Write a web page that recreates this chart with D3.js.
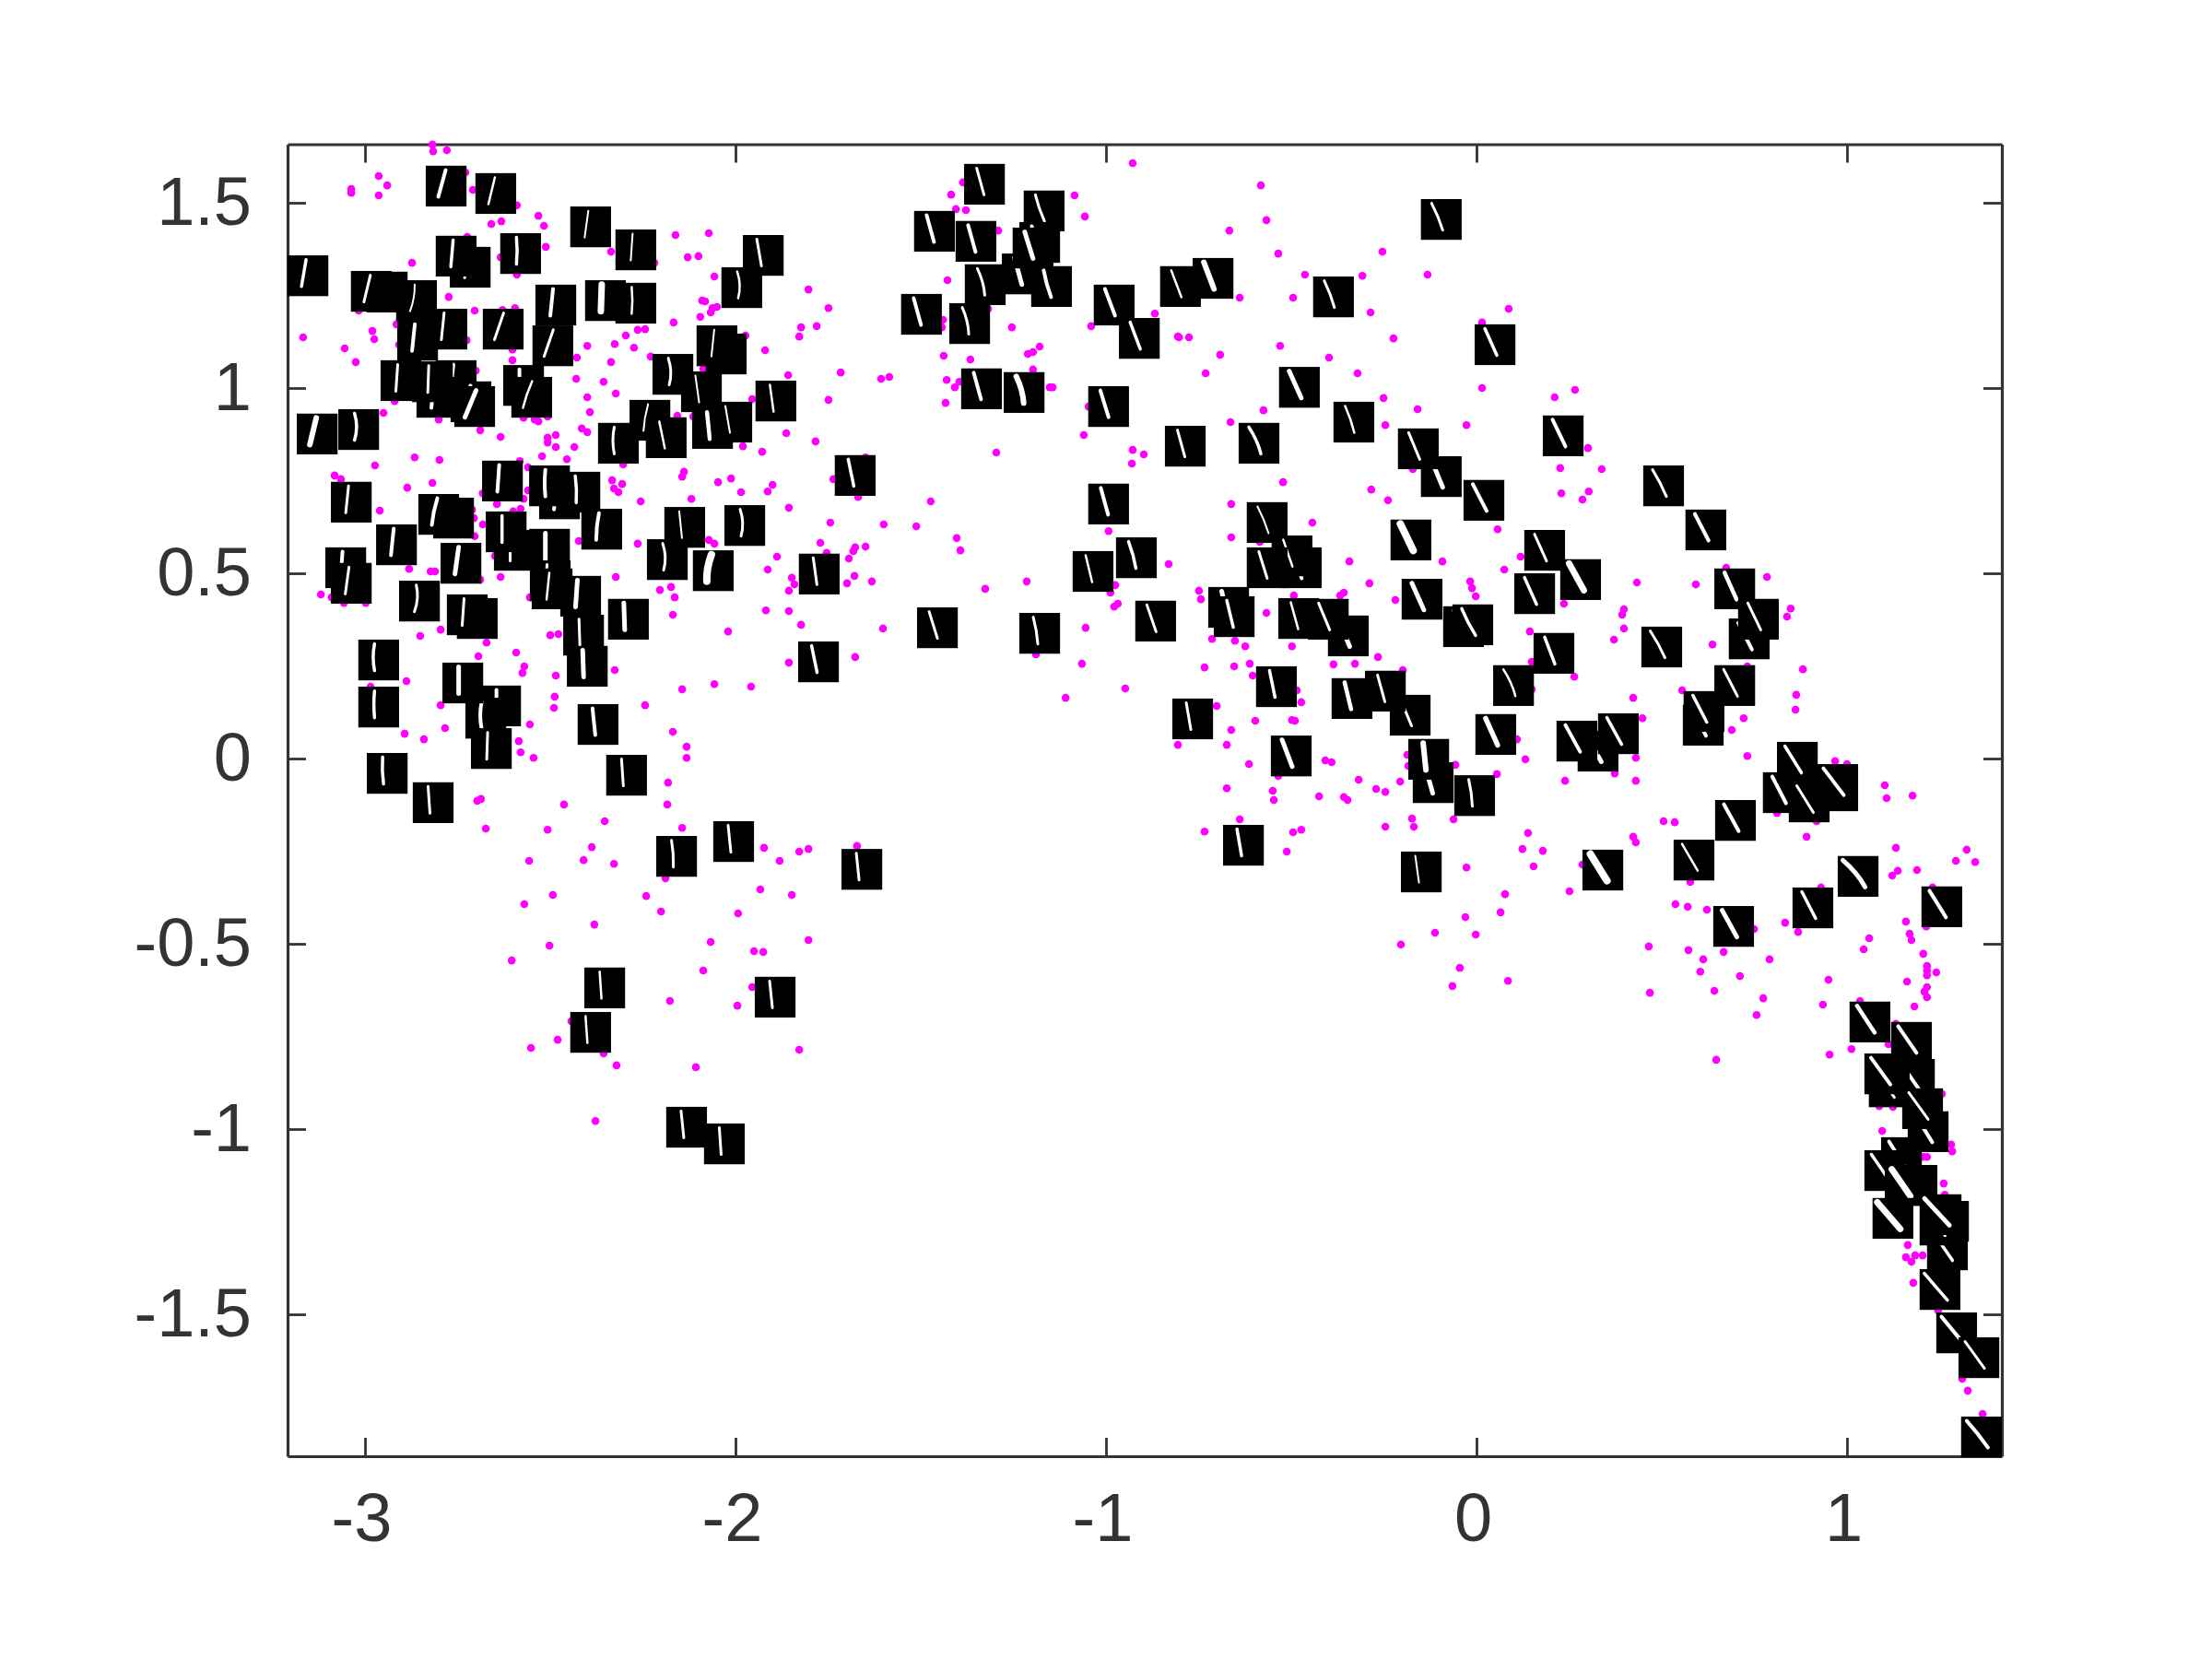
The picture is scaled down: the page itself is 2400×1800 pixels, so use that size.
<!DOCTYPE html>
<html>
<head>
<meta charset="utf-8">
<script src="https://cdn.jsdelivr.net/npm/d3@7"></script>
<style>
  html, body { margin: 0; background: #fff; }
  text { font-family: "Liberation Sans", Arial, sans-serif; }
</style>
</head>
<body>
<div id="chart"></div>
<script>
// tick values and their labels
const xTicks = [-3, -2, -1, 0, 1];
const xTickLabels = ["-3", "-2", "-1", "0", "1"];
const yTicks = [-1.5, -1, -0.5, 0, 0.5, 1, 1.5];
const yTickLabels = ["-1.5", "-1", "-0.5", "0", "0.5", "1", "1.5"];
const xLimits = [-3.209, 1.418];
const yLimits = [-1.883, 1.658];

// magenta points
const dotX = [
  -2.818,-2.816,-2.779,-2.963,-2.940,-3.037,-3.037,-2.963,-2.729,-2.709,-2.590,-2.532,-2.517,-2.659,-2.632,-2.512,-2.724,-2.634,-2.590,-2.336,
  -2.219,-2.162,-2.072,-2.129,-2.100,-2.057,-2.873,-2.774,-3.017,-2.704,-2.629,-2.595,-2.090,-2.082,-2.062,-2.050,-2.067,-2.095,-2.167,-3.167,
  -2.980,-2.975,-2.915,-2.726,-2.908,-3.055,-3.025,-2.602,-2.602,-2.428,-2.400,-2.326,-2.296,-2.264,-2.244,-2.274,-2.336,-2.229,-2.087,-2.701,
  -2.430,-2.356,-2.400,-2.323,-2.920,-2.950,-2.393,-2.801,-2.572,-2.542,-2.532,-2.507,-2.157,-2.114,-2.689,-2.634,-2.415,-2.400,-2.507,-2.485,
  -2.507,-2.485,-2.435,-2.522,-2.455,-2.866,-2.799,-2.973,-2.582,-2.560,-2.303,-2.139,-2.144,-2.333,-2.306,-2.328,-2.316,-2.047,-2.012,-3.082,
  -3.065,-2.818,-2.886,-2.256,-2.119,
  -2.960,-2.644,-2.572,-2.682,-2.560,-2.600,-2.580,-2.711,-2.706,-2.682,-2.704,-2.423,-2.264,-2.072,-2.057,-2.881,-2.823,-2.811,-2.649,-2.634,
  -2.689,-2.323,-3.119,-3.090,-3.057,-2.998,-2.555,-2.204,-2.174,-2.164,-2.169,-2.020,-2.851,-2.796,-2.672,-2.500,-2.478,-2.694,-2.592,-2.570,
  -2.575,-2.485,-2.326,-2.888,-2.985,-2.488,-2.490,-2.796,-2.144,-2.057,-2.244,-2.555,-2.784,-2.893,-2.841,-2.585,-2.580,-2.545,-2.169,-2.132,
  -2.132,-2.182,-2.184,-2.697,-2.687,-2.463,-2.353,-2.674,-2.507,-2.144,
  -2.388,-1.923,-1.828,-1.803,-1.881,-1.672,-2.557,-2.410,-2.328,-2.189,-2.493,-2.241,-1.933,-1.848,-2.570,-2.201,-1.993,-2.381,-2.502,-2.067,
  -1.950,-1.925,-1.803,-2.604,-2.087,-1.955,-2.177,-1.995,-2.443,-2.480,-2.552,-2.356,-2.321,-2.107,-1.828,-2.378,
  -1.418,-1.405,-1.378,-1.386,-1.085,-1.057,-1.291,-1.428,-1.803,-1.749,-1.823,-1.781,-1.828,-1.973,-1.920,-1.318,-1.440,-1.443,-1.254,-0.868,
  -1.040,-0.806,-1.438,-1.366,-1.179,-1.197,-1.211,-1.197,-1.858,-1.716,-1.607,-1.585,-1.430,-1.396,-1.408,-1.433,-1.152,-1.144,-1.047,-1.955,
  -1.749,-1.863,-1.784,-1.980,-1.928,-1.649,-1.296,-1.060,-0.928,-0.898,-0.930,-1.985,-1.900,-1.913,-1.736,-1.669,-1.473,-1.856,-1.744,-1.600,
  -1.512,-1.403,-1.393,-0.993,-1.771,-1.754,-1.888,-1.913,-1.677,-1.649,-1.682,-1.694,-1.848,-1.841,-1.856,-1.679,-1.699,-1.632,-1.326,-1.214,
  -0.975,-0.988,-0.831,
  -1.918,-1.856,-1.823,-1.602,-0.968,-0.978,-1.055,-1.065,-1.189,-1.856,-1.677,-1.958,-1.109,-0.948,-0.806,
  -0.662,-0.662,-0.239,-0.443,0.057,-0.092,0.119,0.075,-0.343,-0.585,-0.289,-0.219,-0.358,-0.368,-0.749,-0.744,-0.493,-0.017,-0.012,-0.002,
  -0.567,0.236,-0.714,-0.652,-0.624,-0.498,0.144,-0.266,-0.386,-0.328,-0.199,-0.734,-0.654,-0.612,-0.604,0.149,-0.485,-0.473,-0.701,0.149,
  -0.597,-0.498,-0.490,-0.662,-0.674,0.109,0.132,-0.614,-0.535,-0.408,-0.391,-0.187,-0.184,-0.057,0.055,-0.318,-0.206,-0.271,-0.246,-0.674,
  -0.550,-0.547,-0.425,-0.358,-0.348,0.239,-0.639,-0.734,-0.495,-0.473,-0.512,-0.246,-0.174,-0.169,-0.062,0.139,0.124,0.179,0.154,-0.027,
  0.077,0.065,-0.030,-0.002,-0.112,-0.204,-0.045,-0.065,0.085,
  -0.928,-0.582,-0.567,-0.667,-0.535,-0.254,-0.463,-0.308,-0.132,-0.639,-0.495,-0.286,-0.224,0.015,0.087,-0.803,-0.776,-0.692,-0.530,-0.398,
  -0.731,-0.321,0.015,-0.575,-0.251,-0.159,-0.664,-0.246,-0.027,-0.172,-0.522,-0.284,
  0.211,0.266,0.301,0.226,0.338,0.229,0.303,0.286,0.433,0.592,0.674,0.784,0.398,0.393,0.398,0.371,0.848,0.838,0.637,0.264,
  0.731,0.881,0.555,0.863,0.423,0.861,0.448,0.721,0.689,0.731,0.430,0.373,0.430,
  0.968,1.000,1.102,1.107,1.177,0.505,0.535,0.811,0.918,0.891,0.423,0.430,1.132,1.323,1.294,1.346,1.137,1.122,1.189,0.286,
  0.251,0.577,0.930,1.231,0.537,0.570,0.622,0.833,1.159,1.169,1.174,1.214,0.749,0.868,1.060,1.045,0.465,0.572,0.612,0.667,
  0.791,1.206,1.216,1.216,1.241,1.216,0.604,0.711,0.950,1.162,1.216,1.209,1.216,0.468,0.642,0.774,0.756,0.935,1.182,1.035,
  1.132,1.112,1.012,0.953,0.647,
  1.256,1.087,1.124,1.095,1.281,1.284,1.206,1.216,1.261,1.264,1.164,1.159,1.174,1.184,1.204,1.179,1.246,1.311,1.326,1.366
];
const dotY = [
  1.657,1.639,1.642,1.572,1.547,1.537,1.527,1.520,1.582,1.535,1.493,1.465,1.438,1.443,1.450,1.381,1.408,1.353,1.306,1.368,
  1.338,1.413,1.418,1.353,1.356,1.301,1.338,1.246,1.209,1.209,1.211,1.216,1.236,1.234,1.216,1.219,1.204,1.192,1.177,1.137,
  1.154,1.132,1.172,1.129,1.117,1.107,1.070,1.104,1.075,1.082,1.114,1.119,1.142,1.157,1.159,1.109,1.070,1.085,1.052,1.047,
  1.025,1.017,0.975,0.985,0.965,0.933,0.935,0.915,0.920,0.915,0.910,0.923,0.925,0.923,0.886,0.868,0.891,0.881,0.866,0.873,
  0.853,0.841,0.841,0.816,0.808,0.813,0.806,0.791,0.803,0.786,0.794,0.774,0.761,0.751,0.741,0.729,0.719,0.746,0.756,0.764,
  0.754,0.744,0.731,0.694,0.701,
  0.669,0.687,0.701,0.716,0.724,0.667,0.674,0.672,0.649,0.632,0.600,0.587,0.580,0.590,0.580,0.512,0.505,0.505,0.547,0.490,
  0.483,0.490,0.443,0.435,0.420,0.420,0.435,0.455,0.463,0.435,0.388,0.343,0.331,0.348,0.313,0.333,0.336,0.276,0.286,0.249,
  0.231,0.224,0.239,0.209,0.194,0.167,0.137,0.144,0.187,0.201,0.144,0.092,0.082,0.067,0.052,0.047,0.017,0.002,0.072,0.032,
  0.002,-0.065,-0.124,-0.114,-0.109,-0.124,-0.169,-0.189,-0.192,-0.187,
  -0.239,-0.241,-0.251,-0.244,-0.276,-0.236,-0.276,-0.274,-0.284,-0.323,-0.368,-0.371,-0.353,-0.368,-0.393,-0.413,-0.418,-0.448,-0.505,-0.495,
  -0.520,-0.522,-0.490,-0.545,-0.572,-0.617,-0.654,-0.667,-0.709,-0.759,-0.781,-0.796,-0.828,-0.833,-0.786,-0.978,
  1.522,1.483,1.480,1.555,1.520,1.463,1.425,1.291,1.266,1.216,1.164,1.167,1.139,1.142,1.102,1.214,1.184,1.164,1.164,1.201,
  1.167,1.139,1.087,1.077,1.112,1.097,1.092,1.050,1.035,1.042,1.025,1.030,1.022,1.017,1.002,0.960,1.002,1.002,0.950,0.970,
  0.968,0.878,0.856,0.843,0.828,0.813,0.826,0.873,0.833,0.821,0.796,0.719,0.739,0.721,0.754,0.706,0.694,0.677,0.637,0.632,
  0.627,0.595,0.562,0.614,0.582,0.555,0.545,0.510,0.570,0.572,0.560,0.540,0.488,0.470,0.453,0.493,0.473,0.478,0.458,0.478,
  0.468,0.448,0.525,
  0.400,0.398,0.361,0.351,0.418,0.410,0.353,0.256,0.281,0.259,0.274,0.194,0.164,0.189,0.037,
  0.687,0.597,0.697,0.637,0.619,0.532,0.545,0.510,0.532,0.585,0.473,0.428,0.448,0.440,0.453,0.430,0.440,0.478,0.460,0.438,
  0.393,0.418,0.323,0.318,0.303,0.303,0.343,0.274,0.254,0.256,0.239,0.246,0.249,0.256,0.224,0.261,0.184,0.152,0.142,0.187,
  0.102,0.104,0.102,0.077,0.037,0.052,-0.002,-0.015,-0.047,-0.005,-0.010,0.010,-0.020,-0.017,-0.042,-0.057,-0.062,-0.082,-0.090,-0.080,
  -0.087,-0.112,-0.102,-0.104,-0.112,-0.060,-0.164,-0.197,-0.199,-0.192,-0.251,-0.184,-0.162,-0.184,-0.164,-0.201,-0.244,-0.249,-0.291,-0.294,
  -0.366,-0.415,-0.428,-0.475,-0.470,-0.502,-0.565,-0.614,-0.600,
  1.607,1.547,1.453,1.425,1.363,1.368,1.306,1.303,1.306,1.244,1.244,1.204,1.134,1.177,1.214,1.137,1.137,1.090,1.114,1.082,
  1.040,1.040,1.000,0.940,0.973,0.943,0.908,0.900,0.900,0.781,0.746,0.726,
  0.975,0.995,0.838,0.784,0.781,0.716,0.721,0.699,0.475,0.470,0.515,0.490,0.403,0.388,0.351,0.321,0.405,0.383,0.308,0.221,
  0.249,0.241,0.184,0.172,0.164,0.132,0.109,0.109,0.077,0.007,0.002,-0.040,-0.060,
  -0.007,-0.015,-0.072,-0.107,-0.100,-0.169,-0.172,-0.147,-0.169,-0.211,-0.211,-0.226,-0.241,-0.246,-0.276,-0.279,-0.303,-0.316,-0.301,-0.286,
  -0.358,-0.333,-0.348,-0.348,-0.393,-0.400,-0.408,-0.443,-0.440,-0.473,-0.490,-0.453,-0.460,-0.468,-0.485,-0.515,-0.507,-0.517,-0.542,-0.522,
  -0.542,-0.527,-0.560,-0.572,-0.577,-0.585,-0.575,-0.587,-0.597,-0.602,-0.617,-0.629,-0.644,-0.632,-0.627,-0.647,-0.692,-0.664,-0.669,-0.654,
  -0.716,-0.771,-0.784,-0.799,-0.813,
  -0.905,-0.938,-0.940,-1.005,-1.042,-1.060,-1.075,-1.075,-1.147,-1.177,-1.313,-1.346,-1.358,-1.341,-1.341,-1.415,-1.490,-1.674,-1.706,-1.769
];

// digit thumbnails, in the order they are stacked (later ones cover earlier ones)
const imgX = [
  -2.940,-2.983,-2.861,-3.154,-2.781,-2.647,-2.716,-2.754,-2.580,-2.391,
  -2.269,-1.925,-1.983,-2.779,-2.858,-2.485,-2.351,-2.269,-2.627,-2.493,
  -2.754,-2.806,-2.714,-2.903,-2.818,-2.704,-2.572,-2.550,-3.129,-3.017,
  -2.025,-2.050,-2.092,-2.169,-2.231,-2.187,-2.316,-2.062,-2.010,-1.891,
  -2.629,-2.475,-2.502,-2.420,-3.037,-2.761,-2.801,-2.137,-2.361,-2.597,
  -2.619,-1.975,-2.184,-2.060,-2.502,-2.741,-2.915,-3.052,-3.037,-2.853,
  -2.697,-2.724,-2.500,-2.495,-2.418,-2.410,-2.289,-2.400,-2.963,-2.963,
  -2.634,-2.674,-2.736,-2.659,-2.371,-2.940,-2.816,-2.294,-2.353,-1.893,
  -1.659,-2.005,-2.159,-2.391,-2.132,-2.030,-1.677,-1.774,
  -1.463,-1.328,-1.351,-1.167,-1.179,-1.226,-1.197,-1.326,-1.147,-1.498,
  -1.368,-0.978,-0.910,-0.799,-0.711,-0.386,-0.095,0.050,-1.336,-1.221,
  -0.993,-0.478,-0.331,-0.786,-0.587,-0.095,-0.157,0.020,-0.993,-0.177,
  -0.565,-0.918,-1.035,-0.473,-0.498,-0.565,-0.147,0.184,0.157,-0.035,
  -0.010,-0.866,-0.669,-0.654,-0.346,-0.480,-0.400,-0.540,-0.766,-0.179,
  -0.336,-0.246,-0.500,0.100,-0.629,-1.455,-1.179,-1.776,-0.149,-0.117,
  -0.129,-0.005,0.052,0.234,0.505,0.619,0.281,0.736,0.697,0.761,
  0.209,0.500,0.697,0.612,0.614,0.328,0.271,0.383,0.975,0.975,
  0.828,0.866,0.898,0.699,0.587,0.341,0.694,0.908,1.030,1.256,
  1.062,1.182,1.174,1.114,1.102,1.219,1.204,1.147,1.102,1.189,
  1.157,1.124,1.274,1.271,1.251,1.254,1.251,1.296,1.356,1.363
];
const imgY = [
  1.259,1.261,1.236,1.303,1.545,1.525,1.326,1.356,1.363,1.435,
  1.373,1.358,1.271,1.159,1.129,1.224,1.236,1.229,1.159,1.114,
  1.020,0.975,0.963,1.020,1.017,0.950,1.007,0.975,0.876,0.888,
  1.092,1.114,0.990,1.037,0.913,0.866,0.851,0.891,0.908,0.965,
  0.749,0.701,0.736,0.719,0.692,0.649,0.659,0.624,0.619,0.562,
  0.612,0.629,0.537,0.507,0.565,0.527,0.577,0.515,0.473,0.425,
  0.378,0.388,0.480,0.458,0.438,0.333,0.376,0.249,0.266,0.139,
  0.142,0.109,0.204,0.027,0.092,-0.040,-0.119,-0.045,-0.619,-0.644,
  -0.299,-0.224,-0.264,-0.739,-0.995,-1.040,0.764,0.498,
  1.423,1.550,1.396,1.478,1.393,1.308,1.378,1.279,1.274,1.199,
  1.174,1.224,1.134,1.274,1.296,1.246,1.455,1.117,0.998,0.988,
  0.950,1.002,0.908,0.843,0.851,0.761,0.836,0.697,0.687,0.590,
  0.637,0.542,0.505,0.515,0.547,0.515,0.430,0.562,0.445,0.356,
  0.361,0.371,0.408,0.383,0.331,0.378,0.376,0.194,0.107,0.117,
  0.162,0.182,0.007,0.197,-0.234,0.353,0.338,0.261,-0.306,-0.065,
  -0.002,-0.100,0.065,0.871,0.736,0.617,0.483,0.323,0.458,0.376,
  0.284,0.301,0.197,0.090,0.127,0.020,0.047,0.067,-0.087,-0.070,
  -0.092,-0.010,-0.117,-0.167,-0.274,-0.301,-0.453,-0.403,-0.318,-0.400,
  -0.711,-0.866,-0.766,-0.886,-0.851,-1.007,-0.945,-1.077,-1.112,-1.152,
  -1.152,-1.241,-1.249,-1.326,-1.259,-1.231,-1.433,-1.550,-1.617,-1.831
];
// slant of the stroke (bottom minus top), its bow, and its weight, per thumbnail
const imgLean = [
  -4,-7,-5,-5,-8,-7,-3,-2.5,0,-4,
  -2,5,1,-3,-3,-3,-1,0,-10,-10,
  -3,-3,-8,-2,-1,-12,0,-10,-7,0,
  -3,-3,4,1,-5,6,0,3,5,4,
  -2,-3,0,1,-3,-4,-6,3,-3,0,
  0,1,1,-5,0,-4,-3,-2,-4,-2,
  -2,-2,-2,-3,-2,1,1,1,0,0,
  0,0,0,-1,3,1,2,2,2,3,
  3,3,2,2,3,2,6,4,
  8,8,8,10,8,8,9,8,8,8,
  7,11,11,11,11,11,12,13,8,8,
  9,13,10,8,13,12,12,15,8,14,
  12,8,7,10,10,9,13,13,13,13,
  15,10,6,7,12,8,12,6,5,12,
  7,8,11,13,5,9,5,6,4,8,
  3,4,13,14,15,15,16,15,13,14,
  11,16,15,15,15,16,16,16,20,22,
  15,18,18,16,17,18,16,15,24,18,
  19,20,20,20,21,18,21,18,20,20,
  20,25,20,20,20,27,25,24,21,23
];
const imgBend = [
  0,0,2,0,0,0,0,0,1,0,
  0,0,3,0,0,0,0,1,0,0,
  0,0,0,0,0,0,0,-1,0,3,
  0,0,0,3,-1,0,-2,0,0,0,
  0,0,-1,1,0,0,-1,0,-1,0,
  0,3,3,-2,0,0,0,0,0,3,
  0,0,0,0,0,0,0,0,-2,-1,
  0,-2,0,0,0,-1,0,0,0,0,
  0,0,1,0,0,0,0,0,
  0,0,0,-1,0,0,0,2,-1,0,
  2,0,0,0,0,1,1,0,0,2,
  0,0,1,0,2,0,0,0,0,0,
  1,1,0,0,0,0,0,0,0,0,
  -1,0,0,0,0,0,0,0,0,0,
  0,0,0,2,0,0,1,0,0,0,
  0,1,0,0,1,0,0,0,0,0,
  0,1,0,0,0,0,0,0,0,0,
  0,0,0,0,0,0,0,0,3,0,
  0,0,0,0,0,0,0,0,0,0,
  0,0,0,0,0,0,0,0,0,1
];
const imgInk = [
  3,3,2,3.5,4,2.5,3,3.5,3.5,2,
  2,3,2.5,3,4,4,7,2.5,3,3,
  4,4,4,3,3,5,4,2.5,6,3.5,
  3,2,2,3,2,2.5,3,4.5,2,2.5,
  4,4,4,3.5,3,4,4,2,4,3,
  3.5,3,3,8,5,5,4,4,3,3,
  3,3,3,2.5,5,3,5,5,3.5,3.5,
  4,4,5,3,4,3.5,3,3,2.5,3,
  3,3,3,2.5,3,3,3.5,3,
  4,3,4,3,4,5,5,3,4,4,
  3,4,3.5,2.5,6,3,3,3.5,4,6,
  4,5,2.5,3,3.5,5,3,4,4,8,
  2,3.5,2.5,4,2.5,3,5,3,3.5,3,
  3.5,3,5,3.5,5,2.5,3,3.5,3,3,
  4.5,3,5,2.5,3.5,3,3,3.5,2,5,
  6,3,5.5,4,3,4,7,4,4.5,3,
  3.5,3,3,4,3.5,5,4,3.5,4,4,
  4,3.5,3,4,2.5,8,5,3.5,5,4,
  4.5,4,4,3,4,4,3,4,3.5,3,
  7,7,3,3.5,3,5,3.5,4,3,4
];
const imgSize = 0.11; // thumbnail edge, in data units

const svg = d3.select("#chart").append("svg")
  .attr("width", 2400)
  .attr("height", 1800);

svg.append("rect").attr("width", 2400).attr("height", 1800).attr("fill", "#fff");

const xScale = d3.scaleLinear().domain(xLimits).range([312, 2172]);
const yScale = d3.scaleLinear().domain(yLimits).range([1580, 156.5]);

const tick = 20;
const label = (ticks, labels) => v => labels[ticks.indexOf(v)];

function styleAxis(g) {
  g.selectAll(".domain").attr("stroke", "#333").attr("stroke-width", 3.2);
  g.selectAll(".tick line").attr("stroke", "#333").attr("stroke-width", 2.8);
  g.selectAll("text").attr("fill", "#333").attr("font-size", 74);
}

svg.append("g").attr("transform", "translate(0,1580)")
  .call(d3.axisBottom(xScale).tickValues(xTicks).tickSizeInner(-tick).tickSizeOuter(0)
    .tickPadding(39).tickFormat(label(xTicks, xTickLabels)))
  .call(styleAxis)
  .call(g => g.selectAll("text").attr("dx", -4));
svg.append("g").attr("transform", "translate(312,0)")
  .call(d3.axisLeft(yScale).tickValues(yTicks).tickSizeInner(-tick).tickSizeOuter(0)
    .tickPadding(39).tickFormat(label(yTicks, yTickLabels)))
  .call(styleAxis);
svg.append("g").attr("transform", "translate(0,156.5)")
  .call(d3.axisTop(xScale).tickValues(xTicks).tickSizeInner(-tick).tickSizeOuter(0).tickFormat(""))
  .call(styleAxis);
svg.append("g").attr("transform", "translate(2172,0)")
  .call(d3.axisRight(yScale).tickValues(yTicks).tickSizeInner(-tick).tickSizeOuter(0).tickFormat(""))
  .call(styleAxis);

svg.append("g").selectAll("circle")
  .data(d3.range(dotX.length))
  .enter()
  .append("circle")
  .attr("cx", i => xScale(dotX[i]))
  .attr("cy", i => yScale(dotY[i]))
  .attr("r", 4.3)
  .attr("fill", "#ff00ff");

const boxW = xScale(imgSize) - xScale(0);
const boxH = yScale(0) - yScale(imgSize);

const thumbs = svg.append("g").selectAll("g")
  .data(d3.range(imgX.length))
  .enter()
  .append("g")
  .attr("transform", i => `translate(${xScale(imgX[i])},${yScale(imgY[i])})`);

thumbs.append("rect")
  .attr("x", -boxW / 2)
  .attr("y", -boxH / 2)
  .attr("width", boxW)
  .attr("height", boxH)
  .attr("fill", "#000");

// the digit sits a little up and left of the middle of its tile
thumbs.append("path")
  .attr("d", i => {
    const p = d3.path();
    p.moveTo(-4.5 - imgLean[i] / 2, -17.5);
    p.quadraticCurveTo(-4.5 + imgBend[i] * 1.5, -3, -4.5 + imgLean[i] / 2, 11.5);
    return p.toString();
  })
  .attr("fill", "none")
  .attr("stroke", "#fff")
  .attr("stroke-width", i => imgInk[i])
  .attr("stroke-linecap", "round");
</script>
</body>
</html>
